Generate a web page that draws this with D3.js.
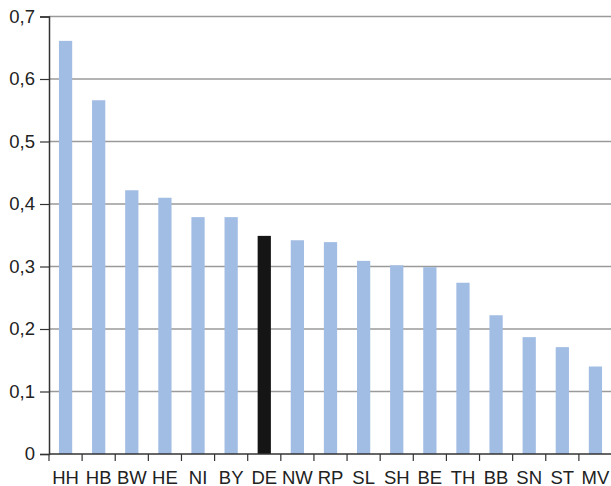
<!DOCTYPE html>
<html>
<head>
<meta charset="utf-8">
<script src="https://cdn.jsdelivr.net/npm/d3@7"></script>
<style>
  html, body { margin: 0; padding: 0; background: #fff; }
  svg { display: block; }
  text { font-family: "Liberation Sans", Arial, sans-serif; fill: #222; }
</style>
</head>
<body>
<svg id="chart" width="611" height="486"></svg>
<script>
// Federal states (abbreviations) and their values
const states = ["HH","HB","BW","HE","NI","BY","DE","NW","RP","SL","SH","BE","TH","BB","SN","ST","MV"];
const values = [0.661, 0.566, 0.422, 0.410, 0.379, 0.379, 0.349, 0.342, 0.339, 0.309, 0.302, 0.299, 0.274, 0.222, 0.187, 0.171, 0.140];
const yTicks = [0, 0.1, 0.2, 0.3, 0.4, 0.5, 0.6, 0.7];
const highlight = "DE";

const svg = d3.select("#chart");
const m = { left: 49, right: 612, top: 16.5, bottom: 454 };

const x = d3.scaleBand().domain(states).range([m.left, m.right]).paddingInner(0.6).paddingOuter(0.3);
const xBand = d3.scaleBand().domain(states).range([m.left, m.right]).padding(0);
const y = d3.scaleLinear().domain([0, 0.7]).range([m.bottom, m.top]);

const fmt = v => v === 0 ? "0" : d3.format(".1f")(v).replace(".", ",");

// horizontal gridlines
svg.append("g").selectAll("line").data(yTicks.filter(t => t > 0)).join("line")
  .attr("x1", m.left).attr("x2", m.right)
  .attr("y1", d => y(d)).attr("y2", d => y(d))
  .attr("stroke", "#9a9a9a").attr("stroke-width", 1.5);

// bars
svg.append("g").selectAll("rect").data(states).join("rect")
  .attr("x", d => x(d))
  .attr("width", x.bandwidth())
  .attr("y", (d, i) => y(values[i]))
  .attr("height", (d, i) => y(0) - y(values[i]))
  .attr("fill", d => d === highlight ? "#151515" : "#a2bde4");

// y axis
const yAxis = d3.axisLeft(y).tickValues(yTicks).tickFormat(fmt).tickSize(9).tickPadding(5);
const gy = svg.append("g").attr("transform", `translate(${m.left},0)`).call(yAxis);
gy.select(".domain").attr("stroke", "#333").attr("stroke-width", 1.5);
gy.selectAll(".tick line").attr("stroke", "#333").attr("stroke-width", 1.2);
gy.selectAll("text").style("font-size", "18.5px").attr("fill", "#222");

// x axis: tick marks between categories
const gx = svg.append("g").attr("transform", `translate(0,${m.bottom})`);
gx.append("line").attr("x1", m.left).attr("x2", m.right).attr("y1", 0).attr("y2", 0)
  .attr("stroke", "#333").attr("stroke-width", 1.5);
gx.selectAll("line.sep").data(states).join("line").attr("class", "sep")
  .attr("x1", d => xBand(d)).attr("x2", d => xBand(d))
  .attr("y1", 0).attr("y2", 7)
  .attr("stroke", "#333").attr("stroke-width", 1.2);
gx.selectAll("text").data(states).join("text")
  .attr("x", d => xBand(d) + xBand.bandwidth() / 2)
  .attr("y", 29.5)
  .attr("text-anchor", "middle")
  .style("font-size", "18.5px")
  .text(d => d);
</script>
</body>
</html>
